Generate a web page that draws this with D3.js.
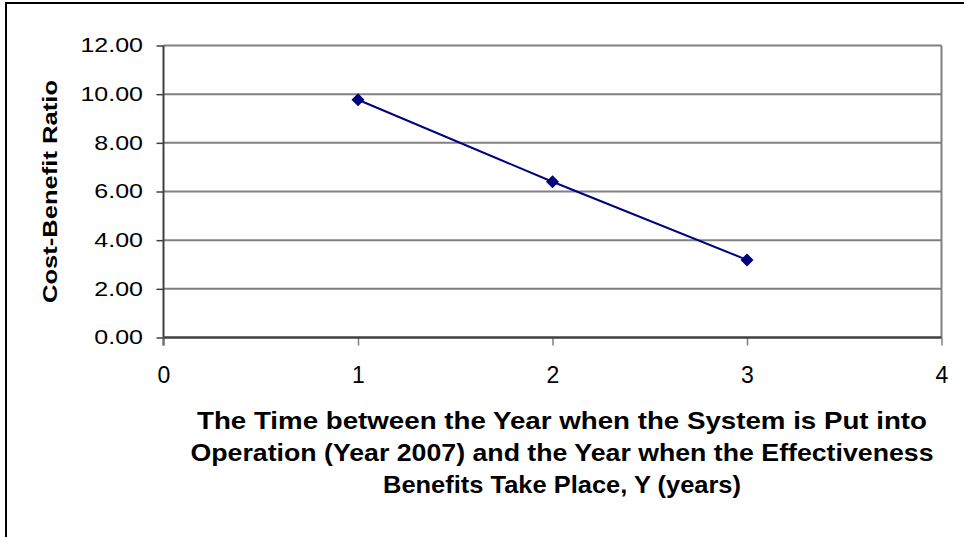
<!DOCTYPE html>
<html>
<head>
<meta charset="utf-8">
<script src="https://cdn.jsdelivr.net/npm/d3@7"></script>
<style>
  html, body { margin: 0; padding: 0; background: #fff; }
  svg { display: block; font-family: "Liberation Sans", Arial, sans-serif; }
</style>
</head>
<body>
<svg id="chart" width="964" height="537"></svg>
<script>
// Years after start of operation and the resulting cost-benefit ratio
const years = [1, 2, 3];
const ratios = [9.77, 6.40, 3.19];
const yTicks = [0, 2, 4, 6, 8, 10, 12];
const xTicks = [0, 1, 2, 3, 4];
const yTitle = "Cost-Benefit Ratio";
const xTitleLines = [
  "The Time between the Year when the System is Put into",
  "Operation (Year 2007) and the Year when the Effectiveness",
  "Benefits Take Place, Y (years)"
];

const svg = d3.select("#chart");
const plot = { left: 163.5, right: 941.5, top: 45.5, bottom: 337.5 };
const FONT = "Liberation Sans, Arial, sans-serif";

const x = d3.scaleLinear().domain([0, 4]).range([plot.left, plot.right]);
const y = d3.scaleLinear().domain([0, 12]).range([plot.bottom, plot.top]);

// Widen a text element horizontally by a factor
function stretch(sel, k) {
  sel.each(function () {
    const w = this.getComputedTextLength();
    d3.select(this).attr("textLength", w * k).attr("lengthAdjust", "spacingAndGlyphs");
  });
}

// Outer chart frame
svg.append("rect")
  .attr("x", 6).attr("y", 3)
  .attr("width", 970).attr("height", 560)
  .attr("fill", "none").attr("stroke", "#000").attr("stroke-width", 2);

// Horizontal gridlines
svg.append("g")
  .selectAll("line")
  .data(yTicks.filter(d => d > 0))
  .join("line")
  .attr("x1", plot.left).attr("x2", plot.right)
  .attr("y1", d => y(d)).attr("y2", d => y(d))
  .attr("stroke", "#808080").attr("stroke-width", 2);

// Plot area right border
svg.append("line")
  .attr("x1", plot.right).attr("x2", plot.right)
  .attr("y1", plot.top).attr("y2", plot.bottom)
  .attr("stroke", "#808080").attr("stroke-width", 2);

// Y axis
const yAxis = svg.append("g")
  .attr("transform", `translate(${plot.left},0)`)
  .call(d3.axisLeft(y).tickValues(yTicks).tickFormat(d3.format(".2f")).tickSize(7).tickPadding(13.5));
yAxis.select(".domain").remove();
yAxis.append("line")
  .attr("x1", 0).attr("x2", 0)
  .attr("y1", plot.top).attr("y2", plot.bottom + 8)
  .attr("stroke", "#404040").attr("stroke-width", 2);
yAxis.selectAll(".tick line").attr("stroke", "#404040").attr("stroke-width", 1.5);
yAxis.selectAll(".tick text")
  .attr("fill", "#000").attr("font-size", 20).attr("font-family", FONT)
  .call(stretch, 1.25);

// X axis
const xAxis = svg.append("g")
  .attr("transform", `translate(0,${plot.bottom})`)
  .call(d3.axisBottom(x).tickValues(xTicks).tickFormat(d3.format("d")).tickSize(8).tickPadding(21.5));
xAxis.select(".domain").remove();
xAxis.append("line")
  .attr("x1", plot.left).attr("x2", plot.right)
  .attr("y1", 0).attr("y2", 0)
  .attr("stroke", "#404040").attr("stroke-width", 2.5);
xAxis.selectAll(".tick line").attr("stroke", "#808080").attr("stroke-width", 1.5);
xAxis.selectAll(".tick text")
  .attr("fill", "#000").attr("font-size", 23).attr("font-family", FONT);

// Data line
const pts = years.map((d, i) => [d, ratios[i]]);
svg.append("path")
  .datum(pts)
  .attr("fill", "none")
  .attr("stroke", "#000080")
  .attr("stroke-width", 2)
  .attr("d", d3.line().x(d => x(d[0])).y(d => y(d[1])));

// Diamond markers
svg.append("g")
  .selectAll("path")
  .data(pts)
  .join("path")
  .attr("transform", d => `translate(${x(d[0])},${y(d[1])})`)
  .attr("d", "M0,-6.5L6.5,0L0,6.5L-6.5,0Z")
  .attr("fill", "#000080");

// Y axis title
svg.append("text")
  .attr("transform", `translate(57,191.5) rotate(-90)`)
  .attr("text-anchor", "middle")
  .attr("font-size", 21).attr("font-weight", "bold").attr("font-family", FONT)
  .attr("fill", "#000")
  .attr("textLength", 223).attr("lengthAdjust", "spacingAndGlyphs")
  .text(yTitle);

// X axis title, three centred lines
const xtWidths = [730, 743, 358];
svg.append("g")
  .selectAll("text")
  .data(xTitleLines)
  .join("text")
  .attr("x", 562)
  .attr("y", (d, i) => 429 + i * 32)
  .attr("text-anchor", "middle")
  .attr("font-size", 24).attr("font-weight", "bold").attr("font-family", FONT)
  .attr("fill", "#000")
  .attr("textLength", (d, i) => xtWidths[i]).attr("lengthAdjust", "spacingAndGlyphs")
  .text(d => d);
</script>
</body>
</html>
